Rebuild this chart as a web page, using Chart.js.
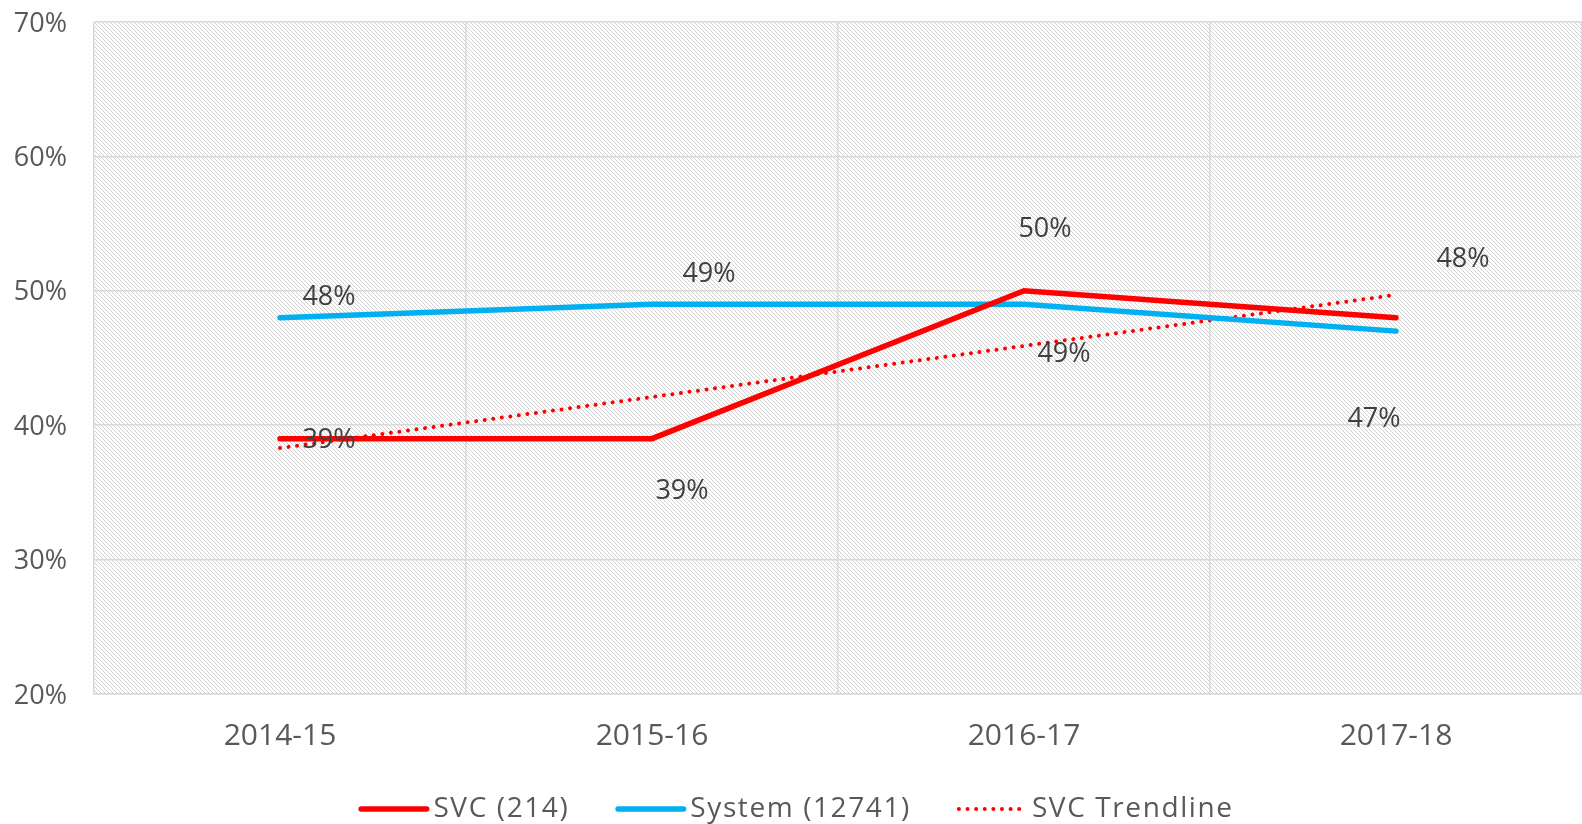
<!DOCTYPE html>
<html>
<head>
<meta charset="utf-8">
<script src="https://cdn.jsdelivr.net/npm/chart.js@4.4.0/dist/chart.umd.min.js"></script>
<style>
    html, body { margin: 0; padding: 0; background: #fff; }
    #wrap { width: 1582px; height: 824px; }
</style>
</head>
<body>
<div id="wrap"><canvas id="chart"></canvas></div>
<script>
const years = ["2014-15", "2015-16", "2016-17", "2017-18"];
const svc = [39, 39, 50, 48];
const system = [48, 49, 49, 47];
const svcTrend = [38.3, 42.1, 45.9, 49.7];
const yMin = 20;
const yMax = 70;
const yStep = 10;

(function(){
    "use strict";

    const FONT = "'Open Sans', 'DejaVu Sans', sans-serif";
    const GRID = "#d9d9d9";
    const TEXT = "#595959";

    // small diagonal hatch tile, like the excel plot area fill
    function makeHatch(ctx){
        const tile = document.createElement("canvas");
        tile.width = 4;
        tile.height = 4;
        const t = tile.getContext("2d");
        t.fillStyle = "#ffffff";
        t.fillRect(0, 0, 4, 4);
        t.fillStyle = "#d2d2d2";
        for (let i = 0; i < 4; i++) {
            t.fillRect(i, i, 1, 1);
        }
        return ctx.createPattern(tile, "repeat");
    }

    const hatchPlugin = {
        id: "hatch",
        beforeDraw(chart){
            const a = chart.chartArea;
            const ctx = chart.ctx;
            ctx.save();
            ctx.fillStyle = makeHatch(ctx);
            ctx.fillRect(a.left, a.top, a.right - a.left, a.bottom - a.top);
            ctx.restore();
        }
    };

    // value labels, placed roughly where excel put them
    const labelOffsets = {
        0: [[49, 2], [30, 53], [21, -61], [67, -58]],
        1: [[49, -20], [57, -30], [40, 50], [-22, 88]]
    };

    const valueLabels = {
        id: "valueLabels",
        afterDatasetsDraw(chart){
            const ctx = chart.ctx;
            ctx.save();
            ctx.font = "27px " + FONT;
            ctx.fillStyle = "#404040";
            ctx.textAlign = "center";
            ctx.textBaseline = "middle";
            Object.keys(labelOffsets).forEach(function(di){
                const meta = chart.getDatasetMeta(di);
                const data = chart.data.datasets[di].data;
                meta.data.forEach(function(pt, i){
                    const off = labelOffsets[di][i];
                    ctx.fillText(data[i] + "%", pt.x + off[0], pt.y + off[1]);
                });
            });
            ctx.restore();
        }
    };

    // legend drawn by hand so the dotted trendline sample shows right
    const bottomLegend = {
        id: "bottomLegend",
        afterDraw(chart){
            const ctx = chart.ctx;
            const sets = chart.data.datasets;
            const sample = 71, gap = 4, spacing = 46;
            const cy = 809;
            ctx.save();
            ctx.font = "28px " + FONT;
            ctx.letterSpacing = "1.6px";
            let total = 0;
            const widths = sets.map(function(ds){
                const w = ctx.measureText(ds.label).width;
                total += sample + gap + w;
                return w;
            });
            total += spacing * (sets.length - 1);
            let x = 796 - total / 2;
            sets.forEach(function(ds, i){
                ctx.beginPath();
                ctx.strokeStyle = ds.borderColor;
                ctx.lineWidth = ds.borderWidth;
                ctx.lineCap = "round";
                ctx.setLineDash(ds.borderDash || []);
                ctx.moveTo(x + ds.borderWidth / 2, cy);
                ctx.lineTo(x + sample - ds.borderWidth / 2, cy);
                ctx.stroke();
                ctx.setLineDash([]);
                ctx.fillStyle = TEXT;
                ctx.textAlign = "left";
                ctx.textBaseline = "middle";
                ctx.fillText(ds.label, x + sample + gap, cy);
                x += sample + gap + widths[i] + spacing;
            });
            ctx.restore();
        }
    };

    const ctx = document.getElementById("chart").getContext("2d");
    new Chart(ctx, {
        type: "line",
        data: {
            labels: years,
            datasets: [
                {
                    label: "SVC (214)",
                    data: svc,
                    borderColor: "#ff0000",
                    backgroundColor: "#ff0000",
                    borderWidth: 5.5,
                    borderCapStyle: "round",
                    pointRadius: 0,
                    tension: 0,
                },
                {
                    label: "System (12741)",
                    data: system,
                    borderColor: "#00b0f0",
                    backgroundColor: "#00b0f0",
                    borderWidth: 5.5,
                    borderCapStyle: "round",
                    pointRadius: 0,
                    tension: 0,
                },
                {
                    label: "SVC Trendline",
                    data: svcTrend,
                    borderColor: "#ff0000",
                    backgroundColor: "#ff0000",
                    borderWidth: 4,
                    borderDash: [0.01, 8.6],
                    borderCapStyle: "round",
                    pointRadius: 0,
                    tension: 0,
                },
            ],
        },
        options: {
            responsive: true,
            maintainAspectRatio: false,
            animation: false,
            layout: {
                padding: { top: 22, right: 0, bottom: 60, left: 0 },
            },
            plugins: {
                legend: { display: false },
                tooltip: { enabled: false },
            },
            scales: {
                x: {
                    offset: true,
                    afterFit(scale){
                        scale.height = 70;
                        scale.paddingLeft = 0;
                        scale.paddingRight = 0;
                    },
                    grid: {
                        offset: true,
                        color: GRID,
                        lineWidth: 1.5,
                        drawTicks: false,
                    },
                    border: { color: GRID, width: 1.5 },
                    ticks: {
                        padding: 24,
                        color: TEXT,
                        font: { family: FONT, size: 30 },
                    },
                },
                y: {
                    min: yMin,
                    max: yMax,
                    afterFit(scale){
                        scale.width = 94;
                        scale.paddingTop = 0;
                        scale.paddingBottom = 0;
                    },
                    grid: {
                        color: GRID,
                        lineWidth: 1.5,
                        drawTicks: false,
                    },
                    border: { display: false },
                    ticks: {
                        stepSize: yStep,
                        padding: 27,
                        labelOffset: 2,
                        color: TEXT,
                        font: { family: FONT, size: 27 },
                        callback: function(value){
                            return value + "%";
                        },
                    },
                },
            },
        },
        plugins: [hatchPlugin, valueLabels, bottomLegend],
    });
})();
</script>
</body>
</html>
